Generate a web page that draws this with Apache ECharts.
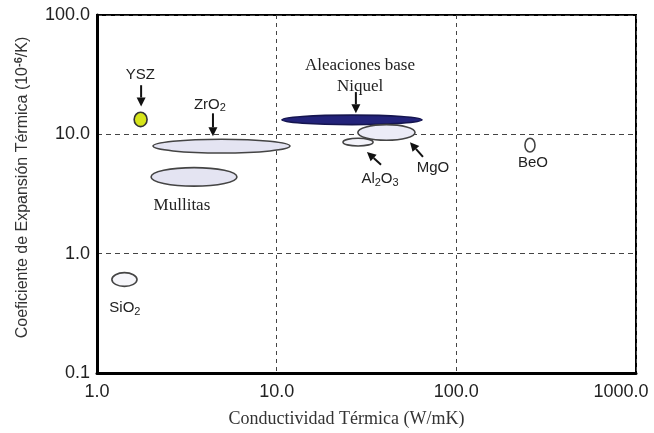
<!DOCTYPE html>
<html><head><meta charset="utf-8">
<script src="https://cdn.jsdelivr.net/npm/echarts@6/dist/echarts.min.js"></script>
<style>html,body{margin:0;padding:0;background:#fff}#c{width:654px;height:433px}</style>
</head><body><div id="c"></div>
<script>
// Materials: thermal conductivity range (W/mK) and thermal expansion range (10^-6/K)
const materials = ['YSZ', 'ZrO2', 'Mullitas', 'Aleaciones base Niquel', 'MgO', 'Al2O3', 'BeO', 'SiO2'];
const kMin = [1.61, 2.05, 2.0, 10.7, 28.3, 23.4, 241, 1.21];
const kMax = [1.90, 11.86, 6.01, 64.4, 58.9, 34.4, 274, 1.67];
const aMin = [11.6, 6.98, 3.68, 12.05, 8.93, 7.98, 7.11, 0.532];
const aMax = [15.3, 9.1, 5.26, 14.5, 12.05, 9.27, 9.27, 0.693];
const fills = ['#d6e41a', '#e4e4f2', '#e4e4f2', '#23237a', '#ececf7', '#f3f3fa', '#ffffff', '#f6f6fa'];
const strokes = ['#333333', '#444444', '#444444', '#15154f', '#444444', '#444444', '#444444', '#444444'];

// Annotation labels (placed at data coordinates)
const labelText = ['YSZ', 'ZrO{s|2}', 'Mullitas', 'Aleaciones base\nNiquel', 'Al{s|2}O{s|3}', 'MgO', 'BeO', 'SiO{s|2}'];
const labelK = [1.74, 4.25, 2.97, 29.1, 37.6, 74.1, 267, 1.43];
const labelA = [31.6, 17.8, 2.52, 31.0, 4.20, 5.26, 5.78, 0.354];
const labelSerif = [false, false, true, true, false, false, false, false];

// Arrows: from (k1,a1) to (k2,a2)
const arrowK1 = [1.76, 4.42, 27.6, 38.1, 65.2];
const arrowA1 = [25.8, 15.0, 22.6, 5.57, 6.48];
const arrowK2 = [1.76, 4.42, 27.6, 31.8, 55.2];
const arrowA2 = [17.1, 9.63, 15.0, 7.11, 8.6];

// Axis tick values
const xTicks = [1, 10, 100, 1000];
const yTicks = [0.1, 1, 10, 100];

const chart = echarts.init(document.getElementById('c'));

const ellipseData = materials.map((m, i) => ({name: m, value: [kMin[i], kMax[i], aMin[i], aMax[i]], fill: fills[i], stroke: strokes[i]}));
const labelData = labelText.map((t, i) => ({value: [labelK[i], labelA[i]], text: t, serif: labelSerif[i]}));
const arrowData = arrowK1.map((k, i) => [k, arrowA1[i], arrowK2[i], arrowA2[i]]);

const option = {
  animation: false,
  backgroundColor: '#fff',
  grid: {left: 97, right: 18, top: 15, bottom: 57, show: true, borderColor: '#000', borderWidth: 2, backgroundColor: 'transparent'},
  xAxis: {
    type: 'log', logBase: 10, min: xTicks[0], max: xTicks[xTicks.length - 1],
    name: 'Conductividad Térmica (W/mK)', nameLocation: 'middle', nameGap: 37,
    nameTextStyle: {fontFamily: 'Liberation Serif', fontSize: 18, color: '#333', padding: [0, 40, 0, 0]},
    axisLine: {show: true, lineStyle: {color: '#000', width: 3}},
    axisTick: {show: false},
    axisLabel: {
      margin: 10, fontFamily: 'Liberation Sans', fontSize: 18, color: '#222',
      formatter: v => v === xTicks[xTicks.length - 1] ? '{m|' + v.toFixed(1) + '}' : v.toFixed(1),
      rich: {m: {fontFamily: 'Liberation Sans', fontSize: 18, color: '#222', padding: [0, 30, 0, 0]}}
    },
    splitLine: {show: true, lineStyle: {color: '#444', width: 1, type: [4, 4]}}
  },
  yAxis: {
    type: 'log', logBase: 10, min: yTicks[0], max: yTicks[yTicks.length - 1],
    name: 'Coeficiente de Expansión Térmica (10{sup|-6}/K)', nameLocation: 'middle', nameGap: 65,
    nameTextStyle: {fontFamily: 'Liberation Sans', fontSize: 16, color: '#333', padding: [0, 0, 0, 13],
      rich: {sup: {fontFamily: 'Liberation Sans', fontSize: 11, fontWeight: 'bold', color: '#333', verticalAlign: 'top', padding: [0, 0, 8, 0]}}},
    axisLine: {show: true, lineStyle: {color: '#000', width: 3}},
    axisTick: {show: false},
    axisLabel: {margin: 7, fontFamily: 'Liberation Sans', fontSize: 18, color: '#222', formatter: v => v.toFixed(1)},
    splitLine: {show: true, lineStyle: {color: '#444', width: 1, type: [5, 4]}}
  },
  series: [
    {
      type: 'custom', name: 'materials', data: ellipseData, z: 3,
      encode: {x: [0, 1], y: [2, 3]},
      renderItem: (params, api) => {
        const d = ellipseData[params.dataIndex];
        const p1 = api.coord([api.value(0), api.value(3)]);
        const p2 = api.coord([api.value(1), api.value(2)]);
        return {
          type: 'ellipse',
          shape: {cx: (p1[0] + p2[0]) / 2, cy: (p1[1] + p2[1]) / 2, rx: Math.abs(p2[0] - p1[0]) / 2, ry: Math.abs(p2[1] - p1[1]) / 2},
          style: {fill: d.fill, stroke: d.stroke, lineWidth: 1.6}
        };
      }
    },
    {
      type: 'custom', name: 'arrows', data: arrowData, z: 4,
      encode: {x: [0, 2], y: [1, 3]},
      renderItem: (params, api) => {
        const a = api.coord([api.value(0), api.value(1)]);
        const b = api.coord([api.value(2), api.value(3)]);
        const dx = b[0] - a[0], dy = b[1] - a[1];
        const len = Math.sqrt(dx * dx + dy * dy);
        const ux = dx / len, uy = dy / len;
        const hl = 9, hw = 4.5;
        const base = [b[0] - ux * hl, b[1] - uy * hl];
        return {
          type: 'group',
          children: [
            {type: 'line', shape: {x1: a[0], y1: a[1], x2: base[0], y2: base[1]}, style: {stroke: '#111', lineWidth: 2}},
            {type: 'polygon', shape: {points: [b, [base[0] - uy * hw, base[1] + ux * hw], [base[0] + uy * hw, base[1] - ux * hw]]}, style: {fill: '#111'}}
          ]
        };
      }
    },
    {
      type: 'custom', name: 'labels', data: labelData, z: 5,
      renderItem: (params, api) => {
        const d = labelData[params.dataIndex];
        const p = api.coord([api.value(0), api.value(1)]);
        const fam = d.serif ? 'Liberation Serif' : 'Liberation Sans';
        return {
          type: 'text',
          style: {
            x: p[0], y: p[1], text: d.text, align: 'center', verticalAlign: 'middle',
            fontFamily: fam, fontSize: d.serif ? 17 : 15, fill: '#222', lineHeight: 21,
            rich: {s: {fontFamily: fam, fontSize: 11, fill: '#222', padding: [8, 0, 0, 0]}}
          }
        };
      }
    }
  ]
};
chart.setOption(option);
</script>
</body></html>
